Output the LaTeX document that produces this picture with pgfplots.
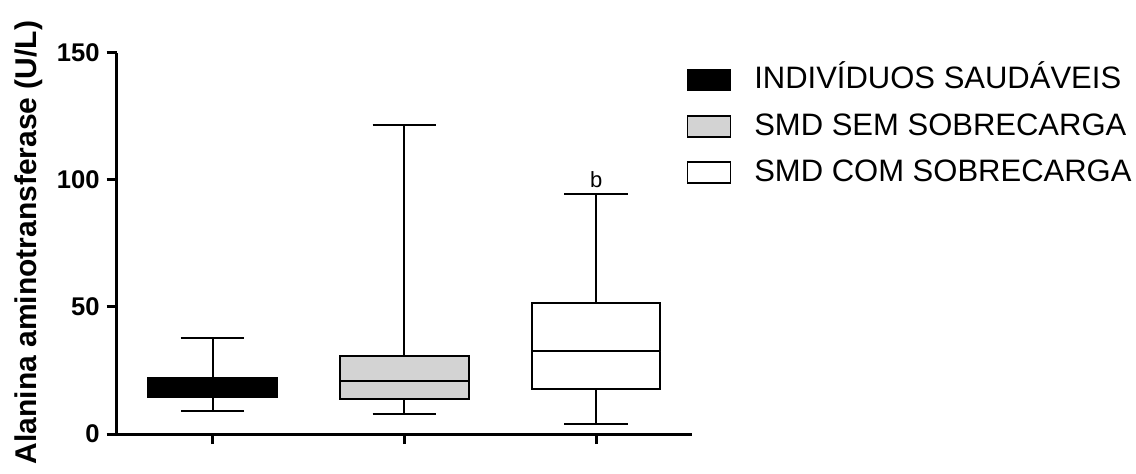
\documentclass[border=0pt]{standalone}
\usepackage{fontspec}
\setmainfont{Liberation Sans}
\usepackage{pgfplots}
\pgfplotsset{compat=1.18}
\usepgfplotslibrary{statistics}
\definecolor{boxgray}{RGB}{211,211,211}
\begin{document}
\begin{tikzpicture}
\useasboundingbox (0,0) rectangle (568pt,236.5pt);
\begin{axis}[
  scale only axis, width=287.65pt, height=190.65pt,
  at={(58.35pt,19.5pt)}, anchor=south west,
  xmin=0.5, xmax=3.5, ymin=0, ymax=150,
  axis x line*=bottom, axis y line*=left,
  axis line style={line width=1.5pt, -},
  xtick={1,2,3}, xticklabels={}, ytick={0,50,100,150},
  minor tick num=0,
  tick align=outside, major tick length=5pt,
  tick style={line width=1.5pt, black},
  /pgf/number format/assume math mode=true,
  tick label style={font=\fontsize{12.8}{14}\selectfont\bfseries},
  yticklabel style={anchor=east, inner sep=0pt, xshift=-3.3pt},
  boxplot/draw direction=y,
  boxplot/box extend=0.67,
  boxplot/whisker extend=0.33,
  clip=false,
  legend style={draw=none, fill=none, inner sep=0pt, outer sep=0pt,
    at={(0.9908,0.9599)}, anchor=north west,
    font=\fontsize{15.5}{18}\selectfont,
    nodes={inner sep=0pt, text height=10.5pt, text depth=0pt},
    row sep=11.5pt, column sep=11.5pt},
  legend cell align=left,
]
\addplot+[forget plot, mark=none, line width=1pt, draw=black, fill=black, solid,
  boxplot prepared={lower whisker=8.9, lower quartile=14.7, median=18,
  upper quartile=22, upper whisker=37.9, draw position=1}] coordinates {};
\addplot+[forget plot, mark=none, line width=1pt, draw=black, fill=boxgray, solid,
  boxplot prepared={lower whisker=7.9, lower quartile=13.9, median=21,
  upper quartile=30.8, upper whisker=121.6, draw position=2}] coordinates {};
\addplot+[forget plot, mark=none, line width=1pt, draw=black, fill=white, solid,
  boxplot prepared={lower whisker=3.8, lower quartile=17.9, median=32.5,
  upper quartile=51.5, upper whisker=94.6, draw position=3}] coordinates {};
\node[anchor=base, yshift=3pt, font=\fontsize{11}{13}\selectfont] at (axis cs:3,94.6) {b};
\addlegendimage{legend image code/.code={\draw[line width=0.8pt, draw=black, fill=black] (0pt,-6pt) rectangle (21.5pt,4.5pt);}}
\addlegendentry{INDIVÍDUOS SAUDÁVEIS}
\addlegendimage{legend image code/.code={\draw[line width=0.8pt, draw=black, fill=boxgray] (0pt,-6pt) rectangle (21.5pt,4.5pt);}}
\addlegendentry{SMD SEM SOBRECARGA}
\addlegendimage{legend image code/.code={\draw[line width=0.8pt, draw=black, fill=white] (0pt,-6pt) rectangle (21.5pt,4.5pt);}}
\addlegendentry{SMD COM SOBRECARGA}
\end{axis}
\node[rotate=90, anchor=base, font=\fontsize{15}{18}\selectfont\bfseries] at (18pt,115.25pt) {Alanina aminotransferase (U/L)};
\end{tikzpicture}
\end{document}
